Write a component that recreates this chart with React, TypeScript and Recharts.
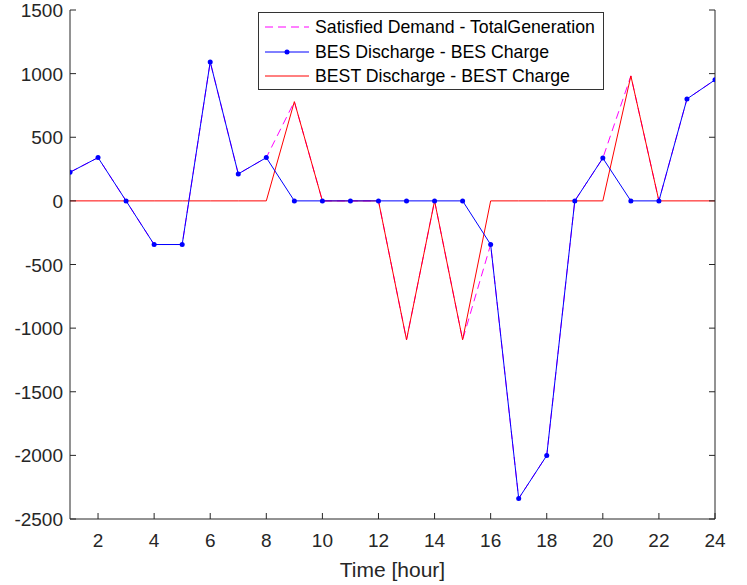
import React from "react";
import {
  Legend,
  Line,
  LineChart,
  XAxis,
  YAxis,
} from "recharts";

const hours = [1, 2, 3, 4, 5, 6, 7, 8, 9, 10, 11, 12, 13, 14, 15, 16, 17, 18, 19, 20, 21, 22, 23, 24];
const satisfiedMinusGen = [225, 340, 0, -343, -343, 1092, 212, 340, 780, 0, 0, 0, -1092, 0, -1092, -343, -2339, -2001, 0, 336, 982, 0, 801, 951];
const besNet = [225, 340, 0, -343, -343, 1092, 212, 340, 0, 0, 0, 0, 0, 0, 0, -343, -2339, -2001, 0, 336, 0, 0, 801, 951];
const bestNet = [0, 0, 0, 0, 0, 0, 0, 0, 780, 0, 0, 0, -1092, 0, -1092, 0, 0, 0, 0, 0, 982, 0, 0, 0];

const xTicks = [2, 4, 6, 8, 10, 12, 14, 16, 18, 20, 22, 24];
const yTicks = [-2500, -2000, -1500, -1000, -500, 0, 500, 1000, 1500];

const data = hours.map((h, i) => ({
  hour: h,
  demand: satisfiedMinusGen[i],
  bes: besNet[i],
  best: bestNet[i],
}));

const AXIS = "#262626";
const FONT = "'Liberation Sans', Arial, sans-serif";
const TICK_LEN = 6;

const BottomTick = ({ x, y, payload }: any) => (
  <g>
    <line x1={x} y1={y} x2={x} y2={y - TICK_LEN} stroke={AXIS} />
    <text x={x} y={y + 28} textAnchor="middle" fontSize={19} fill={AXIS} fontFamily={FONT}>
      {payload.value}
    </text>
  </g>
);

const TopTick = ({ x, y }: any) => (
  <line x1={x} y1={y} x2={x} y2={y + TICK_LEN} stroke={AXIS} />
);

const LeftTick = ({ x, y, payload }: any) => (
  <g>
    <line x1={x} y1={y} x2={x + TICK_LEN} y2={y} stroke={AXIS} />
    <text x={x - 7} y={y + 7} textAnchor="end" fontSize={19} fill={AXIS} fontFamily={FONT}>
      {payload.value}
    </text>
  </g>
);

const RightTick = ({ x, y }: any) => (
  <line x1={x} y1={y} x2={x - TICK_LEN} y2={y} stroke={AXIS} />
);

const legendItems = [
  { label: "Satisfied Demand - TotalGeneration", color: "#ff00ff", dash: "8 5", dot: false },
  { label: "BES Discharge - BES Charge", color: "#0000ff", dash: undefined, dot: true },
  { label: "BEST Discharge - BEST Charge", color: "#ff0000", dash: undefined, dot: false },
];

const renderLegend = () => (
  <div
    style={{
      width: 344,
      height: 76,
      border: "1px solid #333",
      background: "#fff",
      fontFamily: FONT,
      fontSize: 17.7,
      color: "#000",
      boxSizing: "content-box",
    }}
  >
    {legendItems.map((it) => (
      <div key={it.label} style={{ display: "flex", alignItems: "center", height: 24.5, marginTop: it === legendItems[0] ? 2 : 0 }}>
        <svg width={56} height={20} style={{ flex: "none" }}>
          <line x1={6} y1={10} x2={50} y2={10} stroke={it.color} strokeWidth={1} strokeDasharray={it.dash} />
          {it.dot && <circle cx={28} cy={10} r={2.5} fill={it.color} />}
        </svg>
        <span style={{ whiteSpace: "nowrap", lineHeight: "20px" }}>{it.label}</span>
      </div>
    ))}
  </div>
);

export default function App() {
  return (
    <div style={{ position: "absolute", left: 0, top: 0, background: "#fff" }}>
      <LineChart
        width={747}
        height={585}
        data={data}
        margin={{ top: 10, right: 0, bottom: 0, left: 0 }}
        style={{ fontFamily: FONT }}
      >
        <XAxis
          dataKey="hour"
          type="number"
          domain={[1, 24]}
          ticks={xTicks}
          allowDataOverflow
          height={66}
          tickSize={0}
          tickMargin={0}
          tickLine={false}
          axisLine={{ stroke: AXIS }}
          tick={<BottomTick />}
          interval={0}
          label={{
            value: "Time [hour]",
            position: "insideBottom",
            offset: 8,
            fontSize: 21,
            fill: AXIS,
            fontFamily: FONT,
          }}
        />
        <XAxis
          xAxisId="top"
          dataKey="hour"
          type="number"
          orientation="top"
          domain={[1, 24]}
          ticks={xTicks}
          allowDataOverflow
          height={0}
          tickSize={0}
          tickMargin={0}
          tickLine={false}
          axisLine={{ stroke: AXIS }}
          tick={<TopTick />}
          interval={0}
        />
        <YAxis
          type="number"
          domain={[-2500, 1500]}
          ticks={yTicks}
          allowDataOverflow
          width={70}
          tickSize={0}
          tickMargin={0}
          tickLine={false}
          axisLine={{ stroke: AXIS }}
          tick={<LeftTick />}
          interval={0}
        />
        <YAxis
          yAxisId="right"
          orientation="right"
          type="number"
          domain={[-2500, 1500]}
          ticks={yTicks}
          allowDataOverflow
          width={32}
          tickSize={0}
          tickMargin={0}
          tickLine={false}
          axisLine={{ stroke: AXIS }}
          tick={<RightTick />}
          interval={0}
        />
        <Legend
          layout="horizontal"
          verticalAlign="middle"
          align="center"
          content={renderLegend}
          wrapperStyle={{ position: "absolute", left: 258, top: 12, width: "auto", height: "auto" }}
        />
        <Line
          dataKey="demand"
          stroke="#ff00ff"
          strokeWidth={1}
          strokeDasharray="8 5"
          dot={false}
          activeDot={false}
          isAnimationActive={false}
        />
        <Line
          dataKey="best"
          stroke="#ff0000"
          strokeWidth={1}
          dot={false}
          activeDot={false}
          isAnimationActive={false}
        />
        <Line
          dataKey="bes"
          stroke="#0000ff"
          strokeWidth={1}
          dot={{ r: 2.5, fill: "#0000ff", stroke: "none" }}
          activeDot={false}
          isAnimationActive={false}
        />
      </LineChart>
    </div>
  );
}
